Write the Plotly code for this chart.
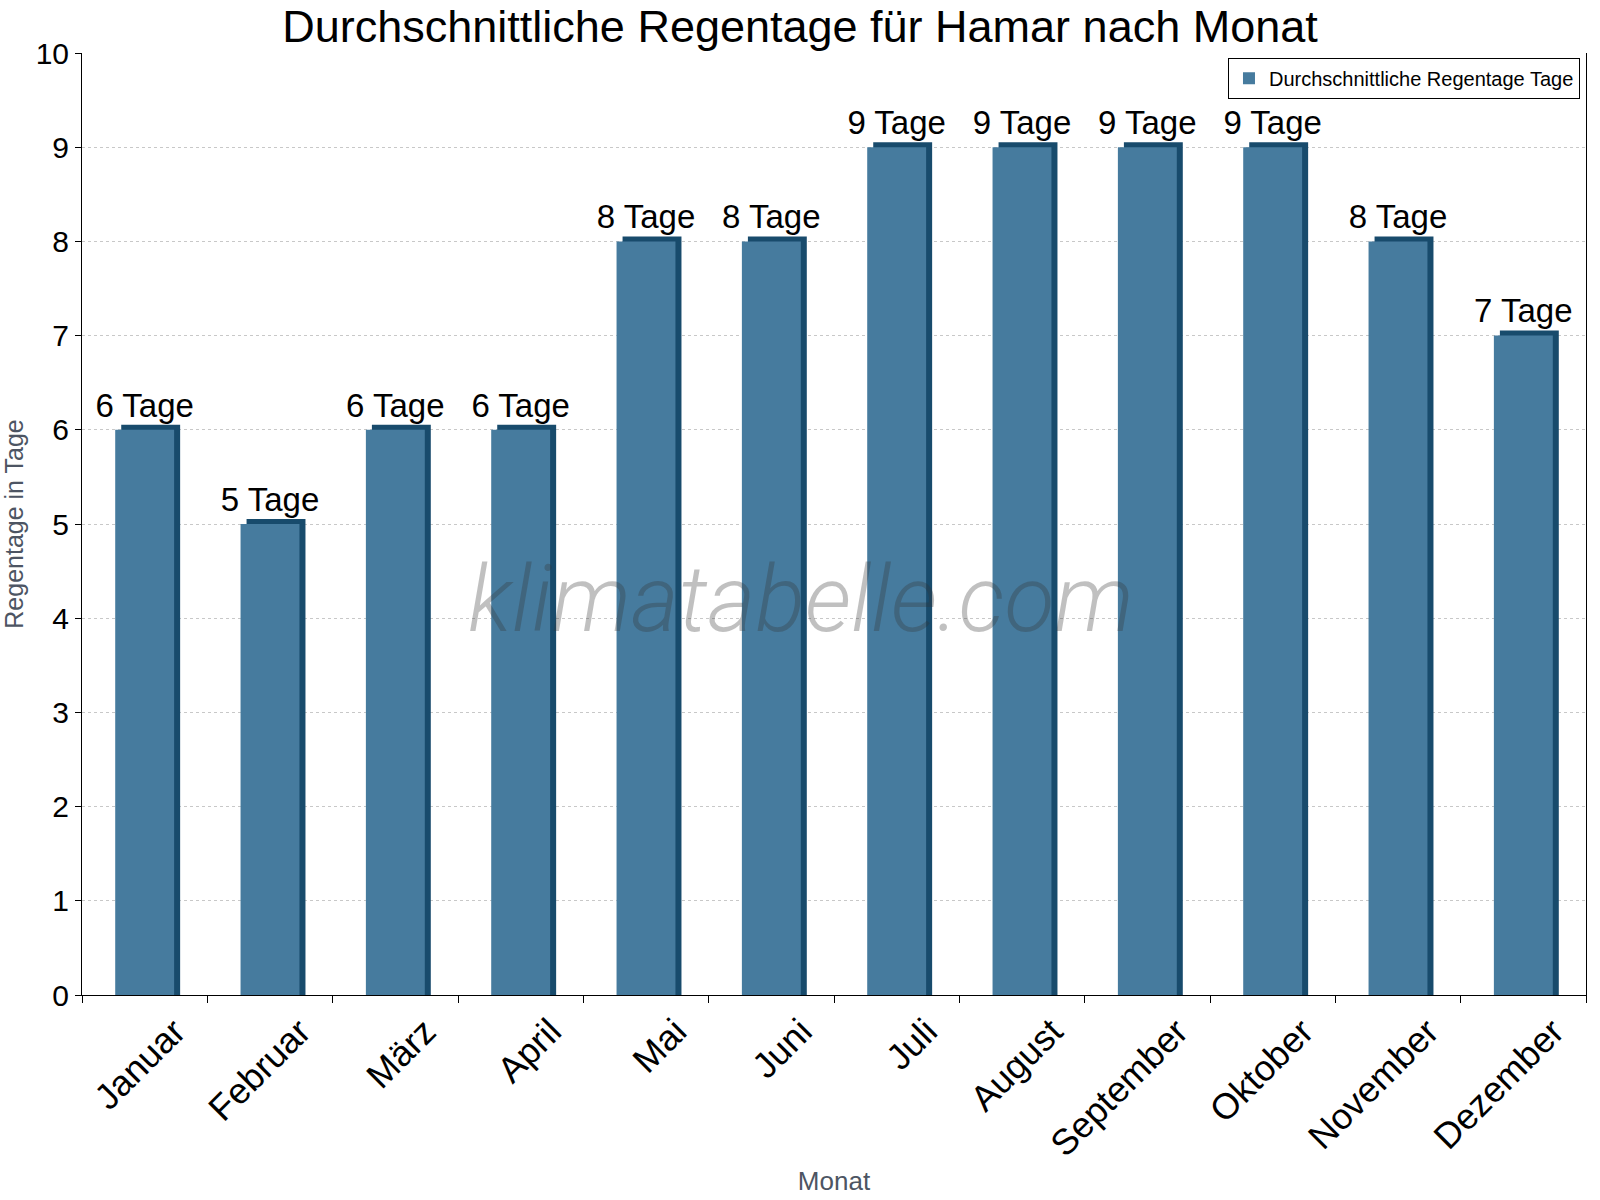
import plotly.graph_objects as go

months = ["Januar", "Februar", "März", "April", "Mai", "Juni", "Juli",
          "August", "September", "Oktober", "November", "Dezember"]
rain_days = [6, 5, 6, 6, 8, 8, 9, 9, 9, 9, 8, 7]
labels = [f"{v} Tage" for v in rain_days]

BAR_W = 0.47
DX = 0.048   # 3D depth in category units
DY = 0.053   # 3D depth in value units
FRONT = "#467B9E"
SIDE = "#184B6C"
FONT = "Liberation Sans, Arial, sans-serif"

fig = go.Figure()

# 3D side/top (darker) bar behind
fig.add_trace(go.Bar(
    x=months, y=[v + DY for v in rain_days], width=BAR_W,
    offset=-BAR_W / 2 + DX, marker=dict(color=SIDE, line=dict(width=0)),
    showlegend=False, hoverinfo="skip"))

# front bar
fig.add_trace(go.Bar(
    x=months, y=rain_days, width=BAR_W, offset=-BAR_W / 2,
    name="Durchschnittliche Regentage Tage",
    marker=dict(color=FRONT, line=dict(width=0))))

# value labels
fig.add_trace(go.Scatter(
    x=months, y=[v + DY for v in rain_days], mode="text", text=labels,
    textposition="top center", textfont=dict(size=33, color="black", family=FONT),
    showlegend=False, hoverinfo="skip", cliponaxis=False))

fig.update_layout(
    width=1600, height=1200,
    barmode="overlay",
    plot_bgcolor="white", paper_bgcolor="white",
    margin=dict(l=82, r=14, t=53, b=205),
    font=dict(family=FONT, color="black"),
    title=dict(text="Durchschnittliche Regentage für Hamar nach Monat",
               x=0.5, xanchor="center", y=1 - 26 / 1200, yanchor="middle",
               font=dict(size=45, color="black", family=FONT)),
    legend=dict(x=0.996, xanchor="right", y=0.995, yanchor="top",
                bgcolor="white", bordercolor="black", borderwidth=1,
                font=dict(size=20, color="black", family=FONT)),
    xaxis=dict(
        type="category", showgrid=False, showline=True, linecolor="black",
        linewidth=1, ticks="outside", tickson="boundaries", ticklen=7,
        tickcolor="black", tickangle=-45, tickfont=dict(size=36, family=FONT),
        ticklabelshift=30,
        automargin=False,
        title=dict(text="Monat", font=dict(size=26, color="#4D5563"), standoff=8),
        range=[-0.5, 11.5]),
    yaxis=dict(
        range=[0, 10], dtick=1, showgrid=True, gridcolor="#C8C8C8",
        griddash="dot", gridwidth=1, showline=True, linecolor="black",
        linewidth=1, mirror=True, ticks="outside", ticklen=6, tickcolor="black",
        tickfont=dict(size=30, family=FONT), zeroline=False, automargin=False,
        title=dict(text="Regentage in Tage", font=dict(size=25, color="#4D5563"),
                   standoff=10)),
)

fig.add_annotation(
    text="klimatabelle.com", xref="paper", yref="paper", x=0.478, y=0.42,
    showarrow=False, opacity=0.3,
    font=dict(size=92, family="Roboto", color="#333333", style="italic", weight=300))

fig.write_html("out.html")
